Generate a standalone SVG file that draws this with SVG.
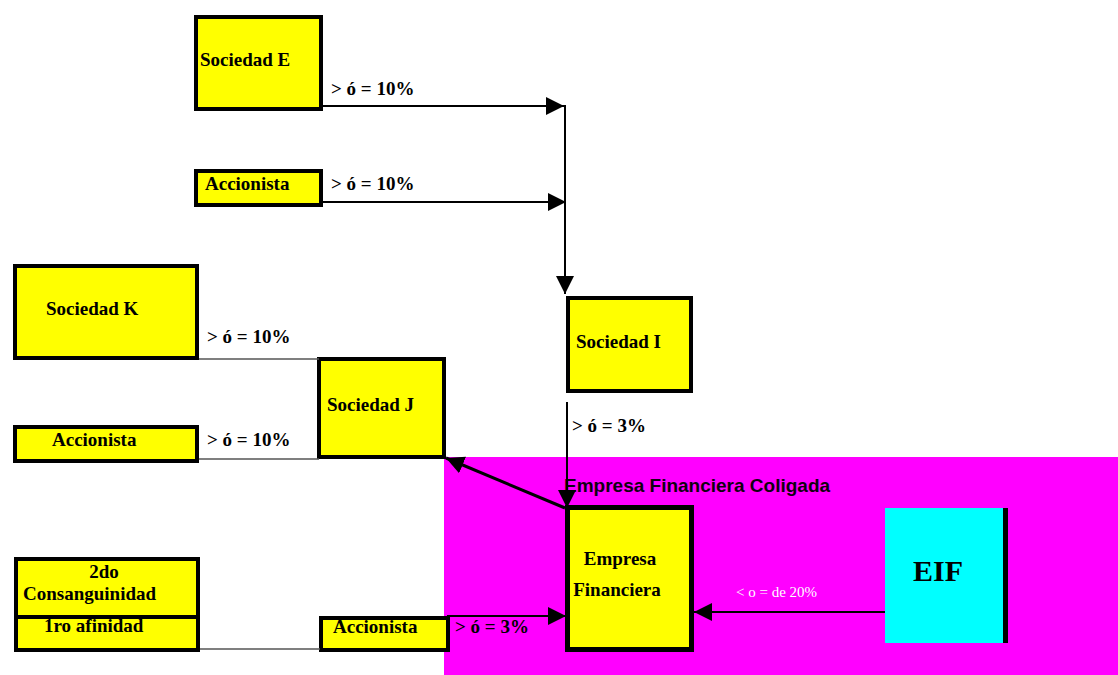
<svg xmlns="http://www.w3.org/2000/svg" width="1118" height="675" viewBox="0 0 1118 675">
<style>
.box{fill:#ffff00;stroke:#000;stroke-width:4}
.t{font-family:"Liberation Serif","Times New Roman",serif;font-weight:bold;font-size:19px;fill:#000}
.lbl{font-family:"Liberation Serif","Times New Roman",serif;font-weight:bold;font-size:19px;fill:#000}
.c{stroke:#000;stroke-width:2;fill:none}
.thin{stroke:#555;stroke-width:1.5;fill:none}
</style>
<defs>
<marker id="ah" markerUnits="userSpaceOnUse" markerWidth="18" markerHeight="18" refX="18" refY="9" orient="auto">
<path d="M0,0 L18,9 L0,18 z" fill="#000"/>
</marker>
</defs>
<rect width="1118" height="675" fill="#fff"/>
<g id="coligada">
<rect x="444" y="457" width="674" height="218" fill="#ff00ff"/>
<text x="564" y="492" font-family="'Liberation Sans',Arial,sans-serif" font-weight="bold" font-size="19" fill="#100010">Empresa Financiera Coligada</text>
</g>
<g id="sociedad-e">
<rect class="box" x="196" y="17" width="125" height="92"/>
<text class="t" x="200" y="66">Sociedad E</text>
</g>
<g id="accionista-1">
<rect class="box" x="196" y="171" width="125" height="34"/>
<text class="t" x="205" y="190">Accionista</text>
</g>
<g id="sociedad-k">
<rect class="box" x="15" y="266" width="182" height="92"/>
<text class="t" x="46" y="315">Sociedad K</text>
</g>
<g id="accionista-2">
<rect class="box" x="15" y="427" width="182" height="34"/>
<text class="t" x="52" y="446">Accionista</text>
</g>
<g id="sociedad-j">
<rect class="box" x="319" y="359" width="125" height="98"/>
<text class="t" x="327" y="411">Sociedad J</text>
</g>
<g id="sociedad-i">
<rect class="box" x="568" y="298" width="123" height="93"/>
<text class="t" x="576" y="348">Sociedad I</text>
</g>
<g id="empresa-financiera">
<rect class="box" x="567.5" y="507.5" width="124" height="142" style="stroke-width:5"/>
<text class="t" x="620" y="565" text-anchor="middle">Empresa</text>
<text class="t" x="617" y="596" text-anchor="middle">Financiera</text>
</g>
<g id="eif">
<rect x="885" y="508" width="118" height="135" fill="#00ffff"/>
<rect x="1003" y="508" width="5" height="135" fill="#000"/>
<text x="938" y="581" text-anchor="middle" font-family="'Liberation Serif','Times New Roman',serif" font-weight="bold" font-size="30" fill="#000">EIF</text>
</g>
<g id="consanguinidad">
<rect class="box" x="16" y="559" width="182" height="91"/>
<line x1="16" y1="617" x2="198" y2="617" stroke="#000" stroke-width="4"/>
<text class="t" x="104" y="578" text-anchor="middle">2do</text>
<text class="t" x="23" y="600">Consanguinidad</text>
<text class="t" x="44" y="632">1ro afinidad</text>
</g>
<g id="accionista-3">
<rect class="box" x="321" y="618" width="127" height="32"/>
<text class="t" x="333" y="633">Accionista</text>
</g>
<g id="connectors">
<line class="c" x1="323" y1="106" x2="564" y2="106" marker-end="url(#ah)"/>
<line class="c" x1="323" y1="202" x2="566" y2="202" marker-end="url(#ah)"/>
<line class="c" x1="565" y1="105" x2="565" y2="294" marker-end="url(#ah)"/>
<line class="thin" x1="199" y1="359" x2="319" y2="359"/>
<line class="thin" x1="199" y1="459" x2="319" y2="459"/>
<line class="c" x1="567" y1="402" x2="567" y2="508" marker-end="url(#ah)"/>
<line class="c" x1="565" y1="508" x2="446" y2="458" style="stroke-width:3" marker-end="url(#ah)"/>
<line class="c" x1="447" y1="616" x2="566" y2="616" marker-end="url(#ah)"/>
<line class="thin" x1="200" y1="649" x2="320" y2="649"/>
<line class="c" x1="885" y1="612" x2="694" y2="612" marker-end="url(#ah)"/>
<text class="lbl" x="331" y="95">&gt; ó = 10%</text>
<text class="lbl" x="331" y="190">&gt; ó = 10%</text>
<text class="lbl" x="207" y="343">&gt; ó = 10%</text>
<text class="lbl" x="207" y="446">&gt; ó = 10%</text>
<text class="lbl" x="572" y="432">&gt; ó = 3%</text>
<text class="lbl" x="455" y="633">&gt; ó = 3%</text>
<text x="736" y="597" font-family="'Liberation Serif','Times New Roman',serif" font-size="15" fill="#fff">&lt; o = de 20%</text>
</g>
</svg>
